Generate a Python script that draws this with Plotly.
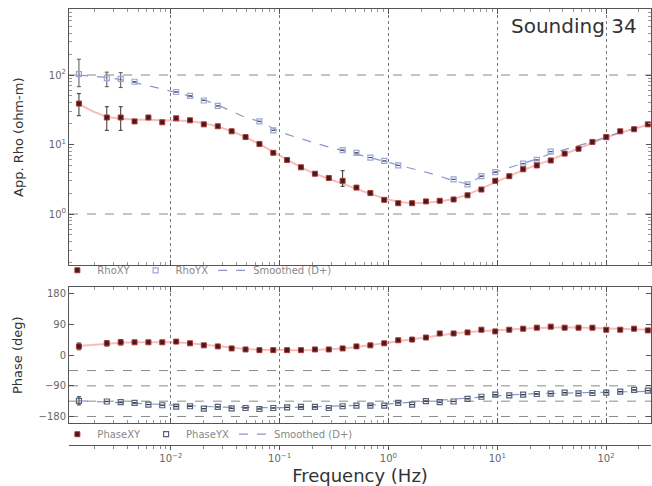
import plotly.graph_objects as go

# Sounding frequencies (Hz)
freq = [0.00143, 0.00192, 0.00258, 0.00346, 0.00464, 0.00622, 0.00834, 0.0112,
        0.0150, 0.0201, 0.0270, 0.0362, 0.0486, 0.0652, 0.0874, 0.117, 0.157,
        0.211, 0.283, 0.379, 0.508, 0.682, 0.915, 1.23, 1.65, 2.21, 2.96, 3.97,
        5.33, 7.15, 9.59, 12.9, 17.3, 23.1, 31.0, 41.6, 55.8, 74.9, 100.4, 135,
        181, 242]

# Apparent resistivity (ohm-m)
rho_xy = [38.8, None, 24.5, 24.5, 21.5, 24.5, 20.9, 23.8, 22.3, 19.5, 18.3, 15.5,
          12.8, 10.2, 7.6, 6.0, 4.7, 3.8, 3.3, 3.0, 2.4, 2.0, 1.6, 1.43, 1.43,
          1.52, 1.55, 1.62, 1.86, 2.25, 3.0, 3.5, 4.4, 5.0, 5.9, 7.4, 8.7, 10.9,
          12.8, 15.5, 16.6, 19.5]
rho_xy_err_up = [15.2, 0, 10.5, 10.5] + [0] * 15 + [1.2] + [0] * 22
rho_xy_err_dn = [12.8, 0, 8.5, 8.5] + [0] * 15 + [0.5] + [0] * 22

rho_yx = [103, None, 90, 88, 80, None, None, 57, 50, 43, 36, None, None, 21.5, 16,
          None, None, None, None, 8.3, 7.6, 6.5, 5.8, 5.0, None, None, None, 3.15,
          2.67, 3.5, 4.0, None, 5.3, 6.0, 7.9, None, None, None, 12.8, None, None,
          None]
rho_yx_err_up = [66, 0, 20, 20] + [0] * 38
rho_yx_err_dn = [35, 0, 22, 22] + [0] * 38

# Smoothed (D+) responses
rho_xy_smooth = [38, 30, 25, 23.5, 23, 22.8, 22.6, 22.4, 21.8, 20.3, 18.2, 15.6,
                 12.8, 10.1, 7.8, 6.0, 4.7, 3.8, 3.2, 2.75, 2.3, 1.95, 1.68, 1.5,
                 1.43, 1.45, 1.52, 1.65, 1.9, 2.3, 2.85, 3.5, 4.3, 5.1, 6.0, 7.3,
                 8.8, 10.6, 12.7, 14.8, 17.0, 19.3]
rho_yx_smooth = [100, 97, 92, 86, 78, 70, 63, 56, 50, 44, 37, 30, 24.5, 21.5, 17,
                 14, 12, 10.5, 9.2, 8.2, 7.3, 6.5, 5.8, 5.1, 4.5, 4.0, 3.5, 3.0,
                 2.7, 3.5, 4.0, 4.6, 5.4, 6.2, 7.4, 8.4, 9.6, 11.0, 12.8, 15.0,
                 17.0, 19.3]

# Impedance phase (deg)
phase_xy = [26, None, 35, 38, 38, 38, 38, 40, 35, 29, 26, 20, 17, 15, 15, 15, 15,
            17, 17, 20, 26, 29, 35, 44, 46, 52, 64, 64, 67, 75, 70, 75, 78, 81,
            84, 81, 81, 81, 75, 75, 78, 73]
phase_xy_err = [10, 0, 8, 8] + [0] * 38

phase_yx = [-134, None, -136, -138, -140, -145, -147, -151, -150, -157, -152, -156,
            -155, -158, -155, -153, -152, -152, -155, -150, -148, -148, -148,
            -140, -145, -135, -138, -136, -128, -122, -116, -118, -116, -114,
            -113, -110, -112, -111, -110, -107, -102, -104]
phase_yx_err = [12] + [0] * 41

phase_xy_smooth = [27, 31, 35, 37, 38, 38.5, 38.5, 38, 35.5, 31, 26.5, 22, 18.5,
                   16, 15, 14.5, 14.5, 15.5, 17, 19.5, 24, 29, 35, 41, 47, 53, 59,
                   64, 68, 71, 73, 76, 78, 80, 81.5, 82, 81.5, 80.5, 79, 77.5, 76,
                   75]
phase_yx_smooth = [-134, -136, -138, -140, -142, -144, -146, -148, -150, -151,
                   -152, -153, -154, -154, -154, -154, -153, -152, -151, -150,
                   -148, -146, -144, -141, -138, -135, -132, -129, -126, -122,
                   -119, -116, -114, -113, -112, -111, -110, -110, -109, -108,
                   -107, -106]

# Axis ticks and reference lines
decades = [0.01, 0.1, 1, 10, 100]
decade_labels = ["10<sup>−2</sup>", "10<sup>−1</sup>", "10<sup>0</sup>",
                 "10<sup>1</sup>", "10<sup>2</sup>"]
freq_minor = [m * d for d in [0.001, 0.01, 0.1, 1, 10, 100] for m in range(2, 10)]
rho_ticks = [1, 10, 100]
rho_tick_labels = ["10<sup>0</sup>", "10<sup>1</sup>", "10<sup>2</sup>"]
rho_minor = [m * d for d in [0.1, 1, 10, 100] for m in range(2, 10)]
rho_grid = [1, 100]
phase_ticks = [-180, -90, 0, 90, 180]
phase_grid = [-45, -90, -135, -180]

FONT = "DejaVu Sans"
RED_LINE = "rgba(235,90,90,0.4)"
BLUE_LINE = "#8d97c6"
XY_FILL = "#4a1818"
XY_EDGE = "#a83838"
YX_COL = "#9aa6d6"
YX_PH_COL = "#56607f"
AX_COL = "#555555"

fig = go.Figure()

# ---- resistivity panel ----
fig.add_trace(go.Scatter(x=freq, y=rho_xy_smooth, mode="lines", name="Smoothed (D+)",
                         line=dict(color=RED_LINE, width=2), showlegend=False,
                         xaxis="x", yaxis="y"))
fig.add_trace(go.Scatter(x=freq, y=rho_yx_smooth, mode="lines", name="Smoothed (D+)",
                         line=dict(color=BLUE_LINE, width=1.2, dash="dash"),
                         legend="legend", legendrank=3, xaxis="x", yaxis="y"))
fig.add_trace(go.Scatter(x=freq, y=rho_yx, mode="markers", name="RhoYX",
                         marker=dict(symbol="square-open", size=5, color=YX_COL,
                                     line=dict(width=1.2)),
                         error_y=dict(type="data", symmetric=False, array=rho_yx_err_up,
                                      arrayminus=rho_yx_err_dn, color="#555",
                                      thickness=1, width=2),
                         legend="legend", legendrank=2, xaxis="x", yaxis="y"))
fig.add_trace(go.Scatter(x=freq, y=rho_xy, mode="markers", name="RhoXY",
                         marker=dict(symbol="square", size=5, color=XY_FILL,
                                     line=dict(color=XY_EDGE, width=1)),
                         error_y=dict(type="data", symmetric=False, array=rho_xy_err_up,
                                      arrayminus=rho_xy_err_dn, color="#333",
                                      thickness=1, width=2),
                         legend="legend", legendrank=1, xaxis="x", yaxis="y"))

# ---- phase panel ----
fig.add_trace(go.Scatter(x=freq, y=phase_xy_smooth, mode="lines", name="Smoothed (D+)",
                         line=dict(color=RED_LINE, width=2), showlegend=False,
                         xaxis="x2", yaxis="y2"))
fig.add_trace(go.Scatter(x=freq, y=phase_yx_smooth, mode="lines", name="Smoothed (D+)",
                         line=dict(color=BLUE_LINE, width=1.2, dash="dash"),
                         legend="legend2", legendrank=3, xaxis="x2", yaxis="y2"))
fig.add_trace(go.Scatter(x=freq, y=phase_yx, mode="markers", name="PhaseYX",
                         marker=dict(symbol="square-open", size=5, color=YX_PH_COL,
                                     line=dict(width=1.2)),
                         error_y=dict(type="data", array=phase_yx_err, color="#333",
                                      thickness=1, width=2),
                         legend="legend2", legendrank=2, xaxis="x2", yaxis="y2"))
fig.add_trace(go.Scatter(x=freq, y=phase_xy, mode="markers", name="PhaseXY",
                         marker=dict(symbol="square", size=5, color=XY_FILL,
                                     line=dict(color=XY_EDGE, width=1)),
                         error_y=dict(type="data", array=phase_xy_err, color="#333",
                                      thickness=1, width=2),
                         legend="legend2", legendrank=1, xaxis="x2", yaxis="y2"))
# carries the shared frequency axis below the phase panel
fig.add_trace(go.Scatter(x=freq, y=phase_xy, mode="markers", marker=dict(opacity=0),
                         showlegend=False, hoverinfo="skip", xaxis="x3", yaxis="y2"))

# reference lines
for v in rho_grid:
    fig.add_shape(type="line", xref="x domain", x0=0, x1=1, yref="y", y0=v, y1=v,
                  line=dict(color="#8a8a8a", width=1, dash="dash"), layer="below")
for v in phase_grid:
    fig.add_shape(type="line", xref="x2 domain", x0=0, x1=1, yref="y2", y0=v, y1=v,
                  line=dict(color="#8a8a8a", width=1, dash="dash"), layer="below")

xrange = [-2.936, 2.413]
common_x = dict(type="log", range=xrange, tickvals=decades, showticklabels=False,
                ticks="inside", ticklen=5, tickcolor=AX_COL, showline=True,
                linecolor=AX_COL, linewidth=1, mirror="ticks", showgrid=True,
                gridcolor="#777777", griddash="dot", gridwidth=1, zeroline=False,
                minor=dict(tickvals=freq_minor, ticks="inside", ticklen=3,
                           tickcolor="#999", showgrid=False))

tick_font = dict(family=FONT, size=10, color="#666")
title_font = dict(family=FONT, size=13, color="#333")
legend_style = dict(orientation="h", xanchor="left", yanchor="top",
                    bgcolor="rgba(0,0,0,0)", itemwidth=30, tracegroupgap=0,
                    font=dict(family=FONT, size=10, color="#888"), traceorder="normal")

fig.update_layout(
    width=652, height=486,
    margin=dict(l=69, r=0, t=9, b=35),
    paper_bgcolor="white", plot_bgcolor="white",
    font=dict(family=FONT, color="#555"),
    xaxis=dict(domain=[0, 1], anchor="y", **common_x),
    xaxis2=dict(domain=[0, 1], anchor="y2", **common_x),
    xaxis3=dict(type="log", range=xrange, overlaying="x2", anchor="free", position=0,
                tickvals=decades, ticktext=decade_labels, tickfont=tick_font,
                ticks="outside", ticklen=4, tickcolor=AX_COL, showline=True,
                linecolor=AX_COL, linewidth=1, showgrid=False, zeroline=False,
                minor=dict(tickvals=freq_minor, ticks="outside", ticklen=3,
                           tickcolor="#888", showgrid=False),
                title=dict(text="Frequency (Hz)", standoff=9,
                           font=dict(family=FONT, size=18, color="#333"))),
    yaxis=dict(domain=[0.4118, 1], anchor="x", type="log", range=[-0.74, 2.95],
               tickvals=rho_ticks, ticktext=rho_tick_labels, tickfont=tick_font,
               ticks="inside", ticklen=5, tickcolor=AX_COL, showline=True,
               linecolor=AX_COL, linewidth=1, mirror="ticks", showgrid=False,
               zeroline=False,
               minor=dict(tickvals=rho_minor, ticks="inside", ticklen=3,
                          tickcolor="#999", showgrid=False),
               title=dict(text="App. Rho (ohm-m)", font=title_font, standoff=22)),
    yaxis2=dict(domain=[0.0498, 0.362], anchor="x2", range=[-200, 200],
                tickvals=phase_ticks, tickfont=tick_font, ticks="inside", ticklen=5,
                tickcolor=AX_COL, showline=True, linecolor=AX_COL, linewidth=1,
                mirror="ticks", showgrid=False, zeroline=False,
                title=dict(text="Phase (deg)", font=title_font, standoff=12)),
    legend=dict(x=-0.02, y=0.434, **legend_style),
    legend2=dict(x=-0.02, y=0.058, **legend_style),
    annotations=[dict(text="Sounding 34", xref="paper", yref="paper", x=0.98, y=0.962,
                      xanchor="right", yanchor="middle", showarrow=False,
                      font=dict(family=FONT, size=20, color="#333"))],
)

fig.write_html("out.html")
